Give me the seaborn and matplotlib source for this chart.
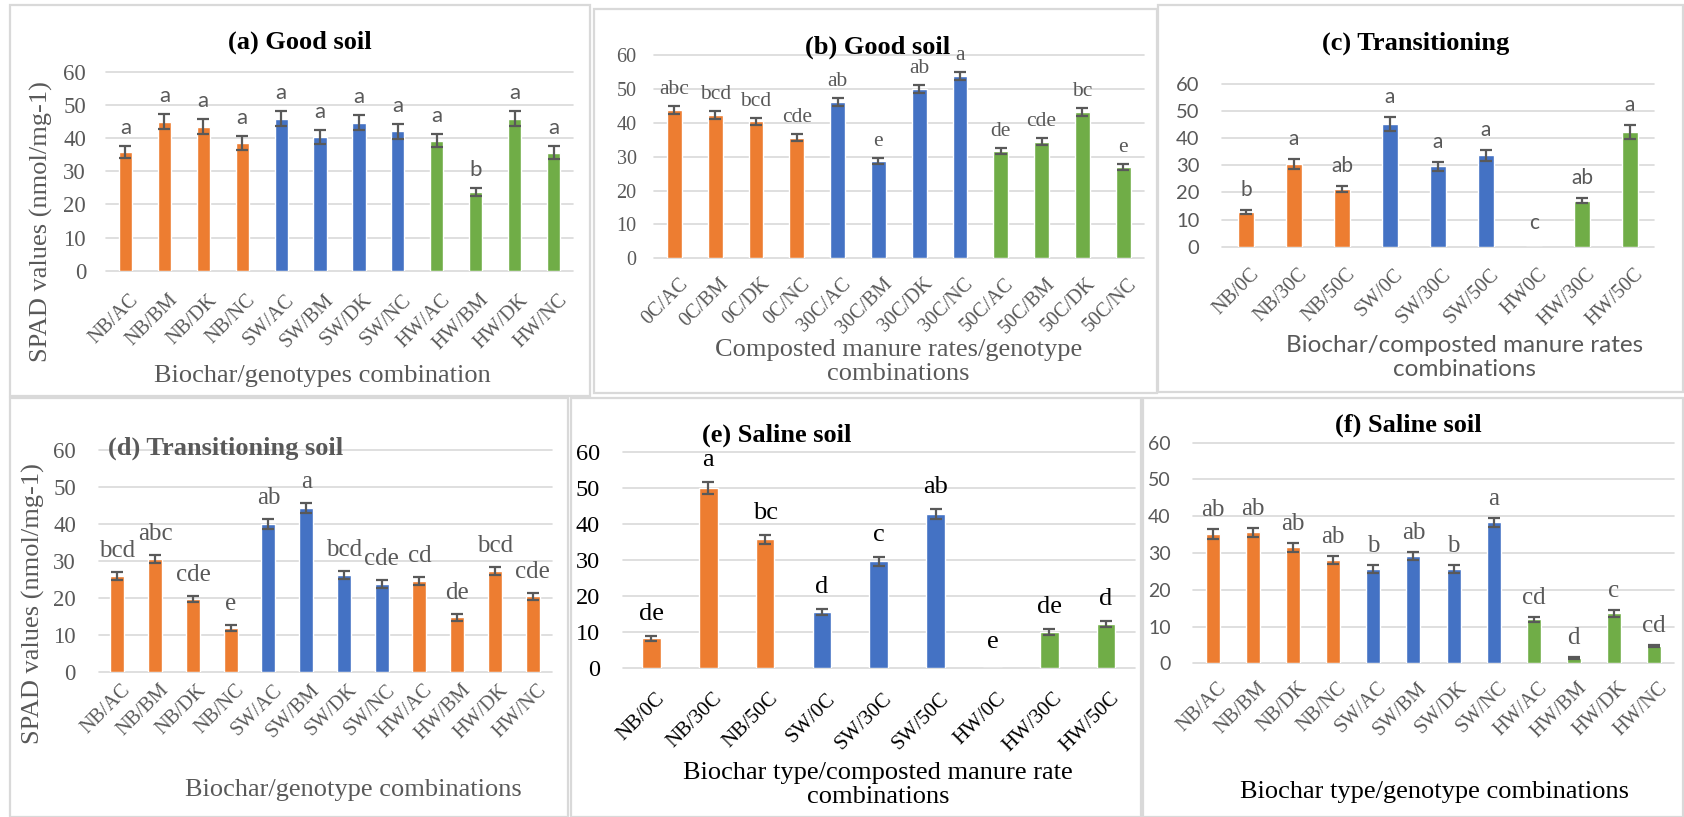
import numpy as np
import pandas as pd
import matplotlib
matplotlib.use("Agg")
import matplotlib.pyplot as plt
import seaborn as sns
from matplotlib.patches import Rectangle
from matplotlib.transforms import ScaledTranslation

# ---------------------------------------------------------------- data
genotype_labels = ["NB/AC", "NB/BM", "NB/DK", "NB/NC", "SW/AC", "SW/BM",
                   "SW/DK", "SW/NC", "HW/AC", "HW/BM", "HW/DK", "HW/NC"]
genotype_groups = ["NB"] * 4 + ["SW"] * 4 + ["HW"] * 4

# (a) good soil, biochar x genotype
a_values = [35.8, 44.9, 43.4, 38.5, 45.8, 40.4, 44.6, 42.0, 39.2, 23.7, 45.8, 35.6]
a_errors = [1.9, 2.2, 2.3, 2.0, 2.3, 2.1, 2.3, 2.2, 2.0, 1.2, 2.3, 1.9]
a_letters = ["a", "a", "a", "a", "a", "a", "a", "a", "a", "b", "a", "a"]

# (b) good soil, compost rate x genotype
b_labels = ["0C/AC", "0C/BM", "0C/DK", "0C/NC", "30C/AC", "30C/BM",
            "30C/DK", "30C/NC", "50C/AC", "50C/BM", "50C/DK", "50C/NC"]
b_groups = ["0C"] * 4 + ["30C"] * 4 + ["50C"] * 4
b_values = [43.8, 42.3, 40.4, 35.6, 46.1, 28.7, 49.9, 53.8, 31.8, 34.4, 43.2, 27.0]
b_errors = [1.1, 1.1, 1.1, 1.0, 1.1, 0.8, 1.2, 1.2, 0.9, 1.0, 1.1, 0.9]
b_letters = ["abc", "bcd", "bcd", "cde", "ab", "e", "ab", "a", "de", "cde", "bc", "e"]

# (c) transitioning soil, biochar x compost rate
c_labels = ["NB/0C", "NB/30C", "NB/50C", "SW/0C", "SW/30C", "SW/50C",
            "HW0C", "HW/30C", "HW/50C"]
rate_groups = ["NB"] * 3 + ["SW"] * 3 + ["HW"] * 3
c_values = [12.8, 30.5, 21.2, 45.3, 29.6, 33.7, 0.0, 16.9, 42.3]
c_errors = [0.9, 2.0, 1.2, 2.7, 1.7, 2.0, 0.0, 0.9, 2.6]
c_letters = ["b", "a", "ab", "a", "a", "a", "c", "ab", "a"]

# (d) transitioning soil, biochar x genotype
d_values = [25.9, 30.4, 19.7, 11.8, 40.0, 44.3, 26.2, 23.7, 24.6, 14.7, 27.2, 20.4]
d_errors = [1.2, 1.1, 0.9, 0.8, 1.35, 1.3, 1.1, 1.0, 1.1, 0.9, 1.1, 0.9]
d_letters = ["bcd", "abc", "cde", "e", "ab", "a", "bcd", "cde", "cd", "de", "bcd", "cde"]

# (e) saline soil, biochar x compost rate
e_labels = ["NB/0C", "NB/30C", "NB/50C", "SW/0C", "SW/30C", "SW/50C",
            "HW/0C", "HW/30C", "HW/50C"]
e_values = [8.3, 49.9, 35.7, 15.7, 29.7, 42.7, 0.0, 10.0, 12.2]
e_errors = [0.6, 1.6, 1.3, 0.8, 1.25, 1.4, 0.0, 0.8, 0.8]
e_letters = ["de", "a", "bc", "d", "c", "ab", "e", "de", "d"]

# (f) saline soil, biochar x genotype
f_values = [35.1, 35.6, 31.5, 28.0, 25.6, 29.2, 25.6, 38.3, 12.0, 1.45, 13.6, 4.7]
f_errors = [1.3, 1.3, 1.2, 1.1, 1.1, 1.1, 1.1, 1.3, 0.7, 0.35, 0.9, 0.4]
f_letters = ["ab", "ab", "ab", "ab", "b", "ab", "b", "a", "cd", "d", "c", "cd"]

y_ticks = [0, 10, 20, 30, 40, 50, 60]

# ---------------------------------------------------------------- style
sns.set_theme(style="white")
SERIF = "Liberation Serif"
SANS = "Lato"
plt.rcParams["font.family"] = [SERIF, "DejaVu Sans"]

W, H, DPI = 1684, 817, 100
ORANGE, BLUE, GREEN = "#ED7D31", "#4472C4", "#70AD47"
GREY = "#595959"
LINE = "#D9D9D9"

biochar_pal = {"NB": ORANGE, "SW": BLUE, "HW": GREEN}
rate_pal = {"0C": ORANGE, "30C": BLUE, "50C": GREEN}
biochar_pal_d = {"NB": ORANGE, "SW": BLUE, "HW": ORANGE}

fig = plt.figure(figsize=(W / DPI, H / DPI), dpi=DPI)
fig.patch.set_facecolor("white")


def fx(x):
    return x / W


def fy(y):
    return 1 - y / H


def frame(x0, y0, x1, y1):
    fig.add_artist(Rectangle((fx(x0), fy(y1)), (x1 - x0) / W, (y1 - y0) / H,
                             transform=fig.transFigure, fill=False,
                             ec=LINE, lw=1.6, zorder=0))


def panel(p):
    frame(*p["frame"])
    x0, x1 = p["xspan"]
    ytop, ybot = p["yspan"]
    ax = fig.add_axes([fx(x0), fy(ybot), (x1 - x0) / W, (ybot - ytop) / H])

    labels = p["labels"]
    df = pd.DataFrame({"label": labels, "value": p["values"], "group": p["groups"]})
    sns.barplot(data=df, x="label", y="value", hue="group", order=labels,
                palette=p["palette"], dodge=False, width=p.get("width", 0.35),
                saturation=1, errorbar=None, legend=False, ax=ax, zorder=2)

    xs = np.arange(len(labels))
    vals = np.asarray(p["values"], dtype=float)
    errs = np.asarray(p["errors"], dtype=float)
    m = vals > 0
    ax.errorbar(xs[m], vals[m], yerr=errs[m], fmt="none", ecolor=GREY,
                elinewidth=1.6, capsize=4.6, capthick=1.6, zorder=3)

    for i, (v, e, t) in enumerate(zip(vals, errs, p["letters"])):
        gap = p["gap"] if v > 0 else p["gap"] + 4
        ax.annotate(t, (i, v + e), xytext=(0, gap * 0.72), textcoords="offset points",
                    ha="center", va="baseline", fontsize=p["let_size"],
                    color=p["let_color"], family=p["let_font"], zorder=4,
                    annotation_clip=False)

    ax.set_xlim(-0.5, len(labels) - 0.5)
    ax.set_ylim(0, 60)
    ax.set_yticks(y_ticks)
    ax.set_xlabel("")
    ax.set_ylabel("")
    for s in ax.spines.values():
        s.set_visible(False)
    ax.grid(axis="y", color=LINE, lw=1.2)
    ax.set_axisbelow(True)
    for gl in ax.get_ygridlines():
        gl.set_clip_on(False)

    ax.tick_params(axis="y", length=0, pad=p["ypad"] * 0.72,
                   labelsize=p["ytick_size"], labelcolor=p["ytick_color"])
    for lab in ax.get_yticklabels():
        lab.set_family(p["ytick_font"])

    ax.set_xticks(xs)
    ax.set_xticklabels(labels, rotation=45, ha="right", rotation_mode="anchor",
                       fontsize=p["xtick_size"], color=p["xtick_color"], family=SERIF)
    ax.tick_params(axis="x", length=0, pad=p["xpad"] * 0.72)
    shift = ScaledTranslation(4 / DPI, 0, fig.dpi_scale_trans)
    for lab in ax.get_xticklabels():
        lab.set_transform(lab.get_transform() + shift)

    tx, ty = p["title_xy"]
    fig.text(fx(tx), fy(ty), p["title"], ha=p.get("title_ha", "center"), va="center",
             fontsize=p["title_size"], fontweight="bold", color=p["title_color"],
             family=SERIF)
    lx, ly = p["xlabel_xy"]
    fig.text(fx(lx), fy(ly), p["xlabel"], ha="center", va="center",
             fontsize=p["xlabel_size"], color=p["xlabel_color"],
             family=p.get("xlabel_font", SERIF), linespacing=1.15)
    if "ylabel" in p:
        yx, yy = p["ylabel_xy"]
        fig.text(fx(yx), fy(yy), p["ylabel"], ha="center", va="center", rotation=90,
                 fontsize=19, color=GREY, family=SERIF)
    return ax


panels = [
    dict(frame=(10, 5, 590, 396), xspan=(106, 573), yspan=(71.7, 270.7),
         labels=genotype_labels, groups=genotype_groups, palette=biochar_pal,
         values=a_values, errors=a_errors, letters=a_letters, width=0.34,
         ypad=20, ytick_size=16.5, ytick_color=GREY, ytick_font=SERIF,
         xpad=20, xtick_size=14.5, xtick_color=GREY,
         let_size=16, let_color=GREY, let_font=SANS, gap=12,
         title="(a) Good soil", title_xy=(300, 42), title_size=19, title_color="black",
         xlabel="Biochar/genotypes combination", xlabel_xy=(322, 376),
         xlabel_size=19, xlabel_color=GREY,
         ylabel="SPAD values (nmol/mg-1)", ylabel_xy=(41, 222)),
    dict(frame=(594, 9, 1157, 393), xspan=(654, 1143.6), yspan=(55, 258.3),
         labels=b_labels, groups=b_groups, palette=rate_pal,
         values=b_values, errors=b_errors, letters=b_letters, width=0.36,
         ypad=17.5, ytick_size=14.5, ytick_color=GREY, ytick_font=SERIF,
         xpad=16, xtick_size=14.5, xtick_color=GREY,
         let_size=15.5, let_color=GREY, let_font=SERIF, gap=12,
         title="(b) Good soil", title_xy=(877.6, 47), title_size=19, title_color="black",
         xlabel="Composted manure rates/genotype\ncombinations", xlabel_xy=(898.7, 362),
         xlabel_size=19, xlabel_color=GREY),
    dict(frame=(1158, 5, 1683, 392), xspan=(1222, 1654), yspan=(84, 246.7),
         labels=c_labels, groups=rate_groups, palette=biochar_pal,
         values=c_values, errors=c_errors, letters=c_letters, width=0.33,
         ypad=22.6, ytick_size=14.5, ytick_color=GREY, ytick_font=SANS,
         xpad=18, xtick_size=14.5, xtick_color=GREY,
         let_size=15, let_color=GREY, let_font=SANS, gap=14,
         title="(c) Transitioning", title_xy=(1415.7, 43), title_size=19,
         title_color="black",
         xlabel="Biochar/composted manure rates\ncombinations", xlabel_xy=(1465, 357.5),
         xlabel_size=17.5, xlabel_color=GREY, xlabel_font=SANS),
    dict(frame=(10, 398, 568, 817), xspan=(98.6, 551.6), yspan=(450, 671.7),
         labels=genotype_labels, groups=genotype_groups, palette=biochar_pal_d,
         values=d_values, errors=d_errors, letters=d_letters, width=0.37,
         ypad=22.6, ytick_size=16.5, ytick_color=GREY, ytick_font=SERIF,
         xpad=9, xtick_size=14.5, xtick_color=GREY,
         let_size=18, let_color=GREY, let_font=SERIF, gap=15,
         title="(d) Transitioning soil", title_xy=(108, 448), title_ha="left",
         title_size=19, title_color=GREY,
         xlabel="Biochar/genotype combinations", xlabel_xy=(353.5, 790),
         xlabel_size=19, xlabel_color=GREY,
         ylabel="SPAD values (nmol/mg-1)", ylabel_xy=(33, 604)),
    dict(frame=(571, 398, 1141, 817), xspan=(623, 1134.5), yspan=(451.7, 668.3),
         labels=e_labels, groups=rate_groups, palette=biochar_pal,
         values=e_values, errors=e_errors, letters=e_letters, width=0.33,
         ypad=23, ytick_size=17.5, ytick_color="black", ytick_font=SERIF,
         xpad=21, xtick_size=15, xtick_color="black",
         let_size=19, let_color="black", let_font=SERIF, gap=16,
         title="(e) Saline soil", title_xy=(702, 435), title_ha="left",
         title_size=19, title_color="black",
         xlabel="Biochar type/composted manure rate\ncombinations", xlabel_xy=(878, 785),
         xlabel_size=19, xlabel_color="black"),
    dict(frame=(1143, 398, 1683, 817), xspan=(1193, 1674), yspan=(442.7, 663.3),
         labels=genotype_labels, groups=genotype_groups, palette=biochar_pal,
         values=f_values, errors=f_errors, letters=f_letters, width=0.35,
         ypad=22.4, ytick_size=14, ytick_color=GREY, ytick_font=SANS,
         xpad=15, xtick_size=14.5, xtick_color=GREY,
         let_size=18, let_color=GREY, let_font=SERIF, gap=13,
         title="(f) Saline soil", title_xy=(1408, 425), title_size=19,
         title_color="black",
         xlabel="Biochar type/genotype combinations", xlabel_xy=(1434, 792),
         xlabel_size=19, xlabel_color="black"),
]

for spec in panels:
    panel(spec)

fig.savefig("out.png", dpi=DPI, facecolor="white")
